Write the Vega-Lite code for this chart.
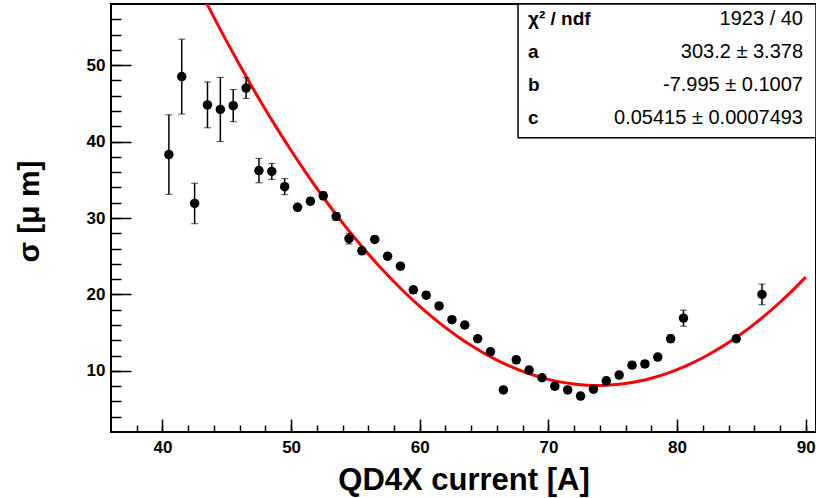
{
  "$schema": "https://vega.github.io/schema/vega-lite/v6.json",
  "width": 705,
  "height": 428,
  "autosize": {"type": "none"},
  "padding": {"left": 111, "top": 4, "right": 0, "bottom": 66},
  "background": "white",
  "config": {
    "view": {"stroke": "#000", "strokeWidth": 2},
    "font": "Liberation Sans",
    "axis": {"grid": false, "domain": false, "zindex": 1, "tickColor": "#000", "labelColor": "#000", "titleColor": "#000", "labelFont": "Liberation Sans", "titleFont": "Liberation Sans", "labelFontWeight": "bold", "titleFontWeight": "bold"}
  },
  "datasets": {
    "pts": [
      {"x": 40.5, "y": 38.3, "err": 5.2},
      {"x": 41.5, "y": 48.5, "err": 4.9},
      {"x": 42.5, "y": 31.9, "err": 2.65},
      {"x": 43.5, "y": 44.8, "err": 3.0},
      {"x": 44.5, "y": 44.2, "err": 4.2},
      {"x": 45.5, "y": 44.7, "err": 2.1},
      {"x": 46.5, "y": 47.0, "err": 1.35},
      {"x": 47.5, "y": 36.2, "err": 1.6},
      {"x": 48.5, "y": 36.1, "err": 1.05},
      {"x": 49.5, "y": 34.1, "err": 1.05},
      {"x": 50.5, "y": 31.4, "err": 0.4},
      {"x": 51.5, "y": 32.2, "err": 0.4},
      {"x": 52.5, "y": 32.9, "err": 0.5},
      {"x": 53.5, "y": 30.2, "err": 0.5},
      {"x": 54.5, "y": 27.3, "err": 0.7},
      {"x": 55.5, "y": 25.7, "err": 0.4},
      {"x": 56.5, "y": 27.2, "err": 0.4},
      {"x": 57.5, "y": 25.0, "err": 0.4},
      {"x": 58.5, "y": 23.7, "err": 0.4},
      {"x": 59.5, "y": 20.6, "err": 0.4},
      {"x": 60.5, "y": 19.9, "err": 0.4},
      {"x": 61.5, "y": 18.5, "err": 0.4},
      {"x": 62.5, "y": 16.7, "err": 0.4},
      {"x": 63.5, "y": 16.0, "err": 0.4},
      {"x": 64.5, "y": 14.2, "err": 0.4},
      {"x": 65.5, "y": 12.5, "err": 0.4},
      {"x": 66.5, "y": 7.5, "err": 0.3},
      {"x": 67.5, "y": 11.45, "err": 0.4},
      {"x": 68.5, "y": 10.1, "err": 0.4},
      {"x": 69.5, "y": 9.1, "err": 0.4},
      {"x": 70.5, "y": 8.0, "err": 0.4},
      {"x": 71.5, "y": 7.5, "err": 0.4},
      {"x": 72.5, "y": 6.7, "err": 0.4},
      {"x": 73.5, "y": 7.6, "err": 0.4},
      {"x": 74.5, "y": 8.7, "err": 0.4},
      {"x": 75.5, "y": 9.45, "err": 0.4},
      {"x": 76.5, "y": 10.75, "err": 0.4},
      {"x": 77.5, "y": 10.9, "err": 0.4},
      {"x": 78.5, "y": 11.8, "err": 0.4},
      {"x": 79.5, "y": 14.2, "err": 0.5},
      {"x": 80.5, "y": 16.9, "err": 1.05},
      {"x": 84.6, "y": 14.2, "err": 0.4},
      {"x": 86.6, "y": 20.0, "err": 1.35}
    ],
    "fit": [
      {"x": 43, "y": 59.538}, {"x": 44, "y": 56.254}, {"x": 45, "y": 53.079}, {"x": 46, "y": 50.011},
      {"x": 47, "y": 47.052}, {"x": 48, "y": 44.202}, {"x": 49, "y": 41.459}, {"x": 50, "y": 38.825},
      {"x": 51, "y": 36.299}, {"x": 52, "y": 33.882}, {"x": 53, "y": 31.572}, {"x": 54, "y": 29.371},
      {"x": 55, "y": 27.279}, {"x": 56, "y": 25.294}, {"x": 57, "y": 23.418}, {"x": 58, "y": 21.651},
      {"x": 59, "y": 19.991}, {"x": 60, "y": 18.44}, {"x": 61, "y": 16.997}, {"x": 62, "y": 15.663},
      {"x": 63, "y": 14.436}, {"x": 64, "y": 13.318}, {"x": 65, "y": 12.309}, {"x": 66, "y": 11.407},
      {"x": 67, "y": 10.614}, {"x": 68, "y": 9.93}, {"x": 69, "y": 9.353}, {"x": 70, "y": 8.885},
      {"x": 71, "y": 8.525}, {"x": 72, "y": 8.274}, {"x": 73, "y": 8.13}, {"x": 74, "y": 8.095},
      {"x": 75, "y": 8.169}, {"x": 76, "y": 8.35}, {"x": 77, "y": 8.64}, {"x": 78, "y": 9.039},
      {"x": 79, "y": 9.545}, {"x": 80, "y": 10.16}, {"x": 81, "y": 10.883}, {"x": 82, "y": 11.715},
      {"x": 83, "y": 12.654}, {"x": 84, "y": 13.702}, {"x": 85, "y": 14.859}, {"x": 86, "y": 16.123},
      {"x": 87, "y": 17.496}, {"x": 88, "y": 18.978}, {"x": 89, "y": 20.567}, {"x": 90, "y": 22.265}
    ],
    "stats": [
      {"label": "χ² / ndf", "value": "1923 / 40"}
    ]
  },
  "resolve": {"axis": {"x": "independent", "y": "independent"}},
  "layer": [
    {
      "data": {"name": "fit"},
      "mark": {"type": "line", "color": "#ff0000", "strokeWidth": 3, "clip": true, "interpolate": "monotone"},
      "encoding": {
        "x": {"field": "x", "type": "quantitative", "scale": {"domain": [36, 90.8], "nice": false, "zero": false},
              "axis": {"orient": "bottom", "values": [38,40,42,44,46,48,50,52,54,56,58,60,62,64,66,68,70,72,74,76,78,80,82,84,86,88,90], "offset": -7, "tickSize": 7, "tickWidth": 1.5, "labels": false, "title": null}},
        "y": {"field": "y", "type": "quantitative", "scale": {"domain": [2, 58], "nice": false, "zero": false},
              "axis": {"orient": "left", "values": [4,6,8,10,12,14,16,18,20,22,24,26,28,30,32,34,36,38,40,42,44,46,48,50,52,54,56], "offset": -10, "tickSize": 10, "tickWidth": 1.5, "labels": false, "title": null}}
      }
    },
    {
      "data": {"name": "pts"},
      "mark": {"type": "errorbar", "ticks": {"size": 7, "color": "#000", "strokeWidth": 1.5}, "rule": {"color": "#000", "strokeWidth": 1.5}},
      "encoding": {
        "x": {"field": "x", "type": "quantitative", "scale": {"domain": [36, 90.8], "nice": false, "zero": false}, "axis": null},
        "y": {"field": "y", "type": "quantitative", "scale": {"domain": [2, 58], "nice": false, "zero": false}, "axis": null},
        "yError": {"field": "err"}
      }
    },
    {
      "data": {"name": "pts"},
      "mark": {"type": "circle", "color": "#000", "opacity": 1, "size": 90},
      "encoding": {
        "x": {"field": "x", "type": "quantitative", "scale": {"domain": [36, 90.8], "nice": false, "zero": false},
              "axis": {"orient": "bottom", "values": [40,50,60,70,80,90], "offset": -13, "tickSize": 13, "tickWidth": 1.5, "labelFontSize": 17, "labelPadding": 7, "title": "QD4X current [A]", "titleFontSize": 31, "titlePadding": 10}},
        "y": {"field": "y", "type": "quantitative", "scale": {"domain": [2, 58], "nice": false, "zero": false},
              "axis": {"orient": "left", "values": [10,20,30,40,50], "offset": -20, "tickSize": 20, "tickWidth": 1.5, "labelFontSize": 17, "labelPadding": 6, "title": "σ [μ m]", "titleFontSize": 30, "titlePadding": 42, "titleY": 207}}
      }
    },
    {
      "data": {"name": "stats"},
      "mark": {"type": "rect", "fill": "white", "stroke": "#000", "strokeWidth": 1.5},
      "encoding": {
        "x": {"datum": 67.64, "type": "quantitative", "scale": {"domain": [36, 90.8], "nice": false, "zero": false}, "axis": null},
        "x2": {"datum": 90.8},
        "y": {"datum": 58, "type": "quantitative", "scale": {"domain": [2, 58], "nice": false, "zero": false}, "axis": null},
        "y2": {"datum": 40.5}
      }
    },
    {
      "data": {"name": "stats"},
      "mark": {"type": "text", "text": ["χ² / ndf", "a", "b", "c"], "align": "left", "baseline": "middle", "lineHeight": 33, "fontSize": 19, "fontWeight": "bold", "font": "Liberation Sans", "color": "#000"},
      "encoding": {
        "x": {"datum": 68.41, "type": "quantitative", "scale": {"domain": [36, 90.8], "nice": false, "zero": false}, "axis": null},
        "y": {"datum": 56.0, "type": "quantitative", "scale": {"domain": [2, 58], "nice": false, "zero": false}, "axis": null}
      }
    },
    {
      "data": {"name": "stats"},
      "mark": {"type": "text", "text": ["1923 / 40", "303.2 ± 3.378", "-7.995 ± 0.1007", "0.05415 ± 0.0007493"], "align": "right", "baseline": "middle", "lineHeight": 33, "fontSize": 20, "font": "Liberation Sans", "color": "#000"},
      "encoding": {
        "x": {"datum": 89.79, "type": "quantitative", "scale": {"domain": [36, 90.8], "nice": false, "zero": false}, "axis": null},
        "y": {"datum": 56.0, "type": "quantitative", "scale": {"domain": [2, 58], "nice": false, "zero": false}, "axis": null}
      }
    }
  ]
}
